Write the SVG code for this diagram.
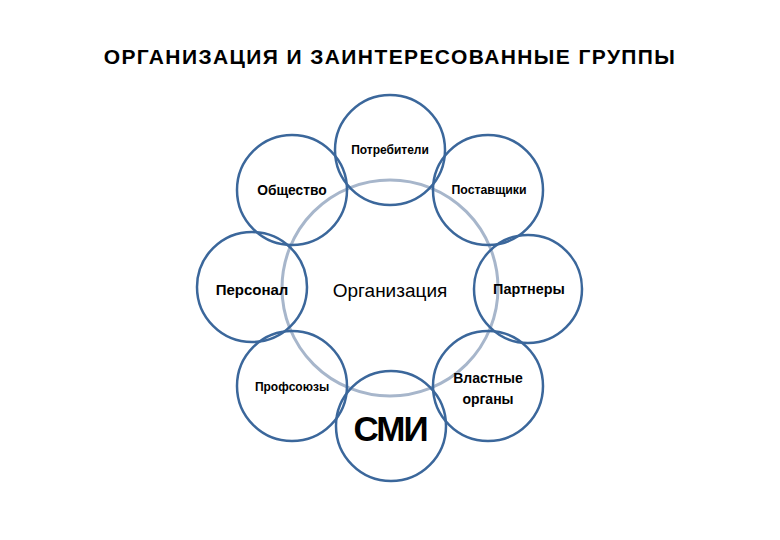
<svg xmlns="http://www.w3.org/2000/svg" width="780" height="540" viewBox="0 0 780 540">
<style>
.bg{fill:#ffffff}
.ring{fill:none;stroke:#A7B6CB;stroke-width:3}
.node{fill:none;stroke:#3B679B;stroke-width:2.5}
text{font-family:"Liberation Sans",Arial,sans-serif;fill:#000;text-anchor:middle}
.b{font-weight:bold}
</style>
<rect class="bg" x="0" y="0" width="780" height="540"/>
<text class="b" x="390" y="64" font-size="21" letter-spacing="1.4">ОРГАНИЗАЦИЯ И ЗАИНТЕРЕСОВАННЫЕ ГРУППЫ</text>
<g id="connectors">
<circle class="ring" cx="390" cy="288" r="108"/>
</g>
<g id="center">
<text x="390" y="297" font-size="19">Организация</text>
</g>
<g id="n-potrebiteli">
<circle class="node" cx="390" cy="150" r="55"/>
<text class="b" x="390" y="154" font-size="12">Потребители</text>
</g>
<g id="n-postavshiki">
<circle class="node" cx="488" cy="190" r="55"/>
<text class="b" x="489" y="194" font-size="12.3">Поставщики</text>
</g>
<g id="n-partnery">
<circle class="node" cx="528" cy="289" r="54"/>
<text class="b" x="529" y="294" font-size="14.4">Партнеры</text>
</g>
<g id="n-vlast">
<circle class="node" cx="488" cy="386" r="55"/>
<text class="b" x="488" y="383" font-size="14">Властные</text>
<text class="b" x="488" y="404" font-size="14">органы</text>
</g>
<g id="n-smi">
<circle class="node" cx="391" cy="426" r="55"/>
<text class="b" x="390" y="441" font-size="35" letter-spacing="-2">СМИ</text>
</g>
<g id="n-profsoyuzy">
<circle class="node" cx="292" cy="386" r="55"/>
<text class="b" x="292" y="391" font-size="12">Профсоюзы</text>
</g>
<g id="n-personal">
<circle class="node" cx="252" cy="287" r="55"/>
<text class="b" x="252" y="295" font-size="15">Персонал</text>
</g>
<g id="n-obshestvo">
<circle class="node" cx="292" cy="190" r="55"/>
<text class="b" x="292" y="195" font-size="13.8">Общество</text>
</g>
</svg>
